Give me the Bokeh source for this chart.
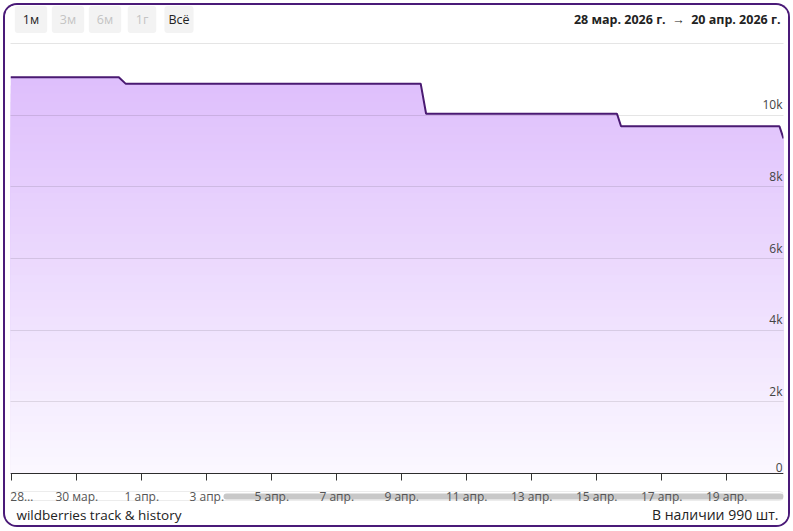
import numpy as np
import pandas as pd
from bokeh.plotting import figure
from bokeh.models import Range1d, FixedTicker, Label, BoxAnnotation, DatetimeAxis
from bokeh.embed import file_html
from bokeh.resources import INLINE

# ---------------- data ----------------
times = ["2026-03-27 23:00", "2026-03-31 07:00", "2026-03-31 12:00",
         "2026-04-09 14:00", "2026-04-09 18:00", "2026-04-15 15:00",
         "2026-04-15 18:00", "2026-04-20 15:00", "2026-04-20 18:00"]
stock = [11060, 11060, 10880, 10880, 10040, 10040, 9690, 9690, 9350]

tick_dates = ["2026-03-28", "2026-03-30", "2026-04-01", "2026-04-03", "2026-04-05",
              "2026-04-07", "2026-04-09", "2026-04-11", "2026-04-13", "2026-04-15",
              "2026-04-17", "2026-04-19"]
tick_labels = ["28…", "30 мар.", "1 апр.", "3 апр.", "5 апр.", "7 апр.", "9 апр.",
               "11 апр.", "13 апр.", "15 апр.", "17 апр.", "19 апр."]
y_ticks = [0, 2000, 4000, 6000, 8000, 10000, 12000]
y_labels = ["0", "2k", "4k", "6k", "8k", "10k"]
buttons = ["1м", "3м", "6м", "1г", "Всё"]
buttons_enabled = [True, False, False, False, True]
range_text = "28 мар. 2026 г.\u00a0 → \u00a020 апр. 2026 г."
footer_left = "wildberries track & history"
footer_right = "В наличии 990 шт."

FONT = "Open Sans"

def ms(s):
    return pd.Timestamp(s).value / 1e6

x = np.array([ms(t) for t in times])
y = np.array(stock, dtype=float)

# frame covers the whole card; 0 sits 52px above the bottom, 12k sits 38px below the top
PX_PER_UNIT = 430 / 12000
y_lo = -52 / PX_PER_UNIT
y_hi = 12000 + 38 / PX_PER_UNIT

p = figure(width=783, height=520, x_axis_type="datetime",
           x_range=Range1d(x[0], x[-1]), y_range=Range1d(y_lo, y_hi),
           x_axis_location=None, y_axis_location=None,
           output_backend="svg", toolbar_location=None,
           min_border_left=5, min_border_right=5, min_border_top=0, min_border_bottom=0,
           styles={"margin-left": "5px", "margin-top": "5px",
                   "box-shadow": "0 0 0 2px #4a1a78", "border-radius": "12px",
                   "overflow": "hidden"})
p.outline_line_color = None
p.background_fill_color = "white"
p.border_fill_color = "white"

# gradient fill: nested areas, drawn from the top band down
n = 48
ymax = y.max()
top_c = np.array([0xde, 0xbe, 0xfc])
bot_c = np.array([0xfb, 0xf8, 0xff])
for i in reversed(range(n)):
    hi = ymax * (i + 1) / n
    t = (i + 0.5) / n
    c = bot_c + (top_c - bot_c) * t
    col = "#%02x%02x%02x" % tuple(int(round(v)) for v in c)
    p.varea(x=x, y1=0, y2=np.minimum(y, hi), fill_color=col)

p.line(x, y, line_color="#4a1a72", line_width=2)

# grid
p.xgrid.visible = False
p.ygrid.ticker = FixedTicker(ticks=y_ticks)
p.ygrid.grid_line_color = "black"
p.ygrid.grid_line_alpha = 0.1
p.ygrid.level = "overlay"

# x axis fixed at y = 0 inside the frame
tick_ms = [ms(d) for d in tick_dates]
ax = DatetimeAxis(fixed_location=0)
ax.ticker = FixedTicker(ticks=tick_ms)
ax.major_label_overrides = {t: ("" if i == 0 else l) for i, (t, l) in enumerate(zip(tick_ms, tick_labels))}
ax.axis_line_color = "#333333"
ax.axis_line_width = 1
ax.major_tick_line_color = "#333333"
ax.major_tick_out = 7
ax.major_tick_in = 0
ax.minor_tick_line_color = None
ax.major_label_standoff = 7
ax.major_label_text_font = FONT
ax.major_label_text_font_size = "12px"
ax.major_label_text_color = "#555555"
p.add_layout(ax, "below")

# first (truncated) tick label, nudged inside like the reference
p.add_layout(Label(x=tick_ms[0], y=38, x_units="data", y_units="screen", text=tick_labels[0],
                   x_offset=10, text_align="center", text_baseline="top",
                   text_font=FONT, text_font_size="12px", text_color="#555555"))

# scrollbar behind the tick labels
p.add_layout(BoxAnnotation(left=0, right=773, top=34, bottom=25,
                           left_units="screen", right_units="screen",
                           top_units="screen", bottom_units="screen",
                           fill_color="white", fill_alpha=1, line_color="#c0c0c0",
                           line_width=1, border_radius=4, level="underlay"))
p.add_layout(BoxAnnotation(left=213, right=773, top=32, bottom=26,
                           left_units="screen", right_units="screen",
                           top_units="screen", bottom_units="screen",
                           fill_color="#c8c8c8", fill_alpha=1, line_color=None,
                           border_radius=3, level="underlay"))

# y labels inside the plot
for v, lab in zip(y_ticks, y_labels):
    p.add_layout(Label(x=772, x_units="screen", y=v, y_units="data", text=lab,
                       text_align="right", text_baseline="bottom", y_offset=2,
                       text_font=FONT, text_font_size="12px", text_color="#444444"))

# header buttons
centers = [20.5, 57.5, 94.5, 131.5, 168.5]
for cx, lab, en in zip(centers, buttons, buttons_enabled):
    p.add_layout(Label(x=cx, y=506, x_units="screen", y_units="screen", text=lab,
                       text_align="center", text_baseline="middle",
                       text_font=FONT, text_font_size="12.5px",
                       text_color="#222222" if en else "#c4c4c4",
                       background_fill_color="#f3f3f3",
                       padding=dict(x=int(15 - 3.5 * len(lab)), y=5), border_radius=3))

p.add_layout(Label(x=770, y=506, x_units="screen", y_units="screen", text=range_text,
                   text_align="right", text_baseline="middle", text_font=FONT,
                   text_font_size="12.5px", text_font_style="bold", text_color="#222222"))

# footer
p.add_layout(Label(x=6, y=11, x_units="screen", y_units="screen", text=footer_left,
                   text_align="left", text_baseline="middle", text_font=FONT,
                   text_font_size="13.5px", text_color="#222222"))
p.add_layout(Label(x=768, y=11, x_units="screen", y_units="screen", text=footer_right,
                   text_align="right", text_baseline="middle", text_font=FONT,
                   text_font_size="14px", text_color="#222222"))

open("out.html", "w").write(file_html(p, INLINE))
